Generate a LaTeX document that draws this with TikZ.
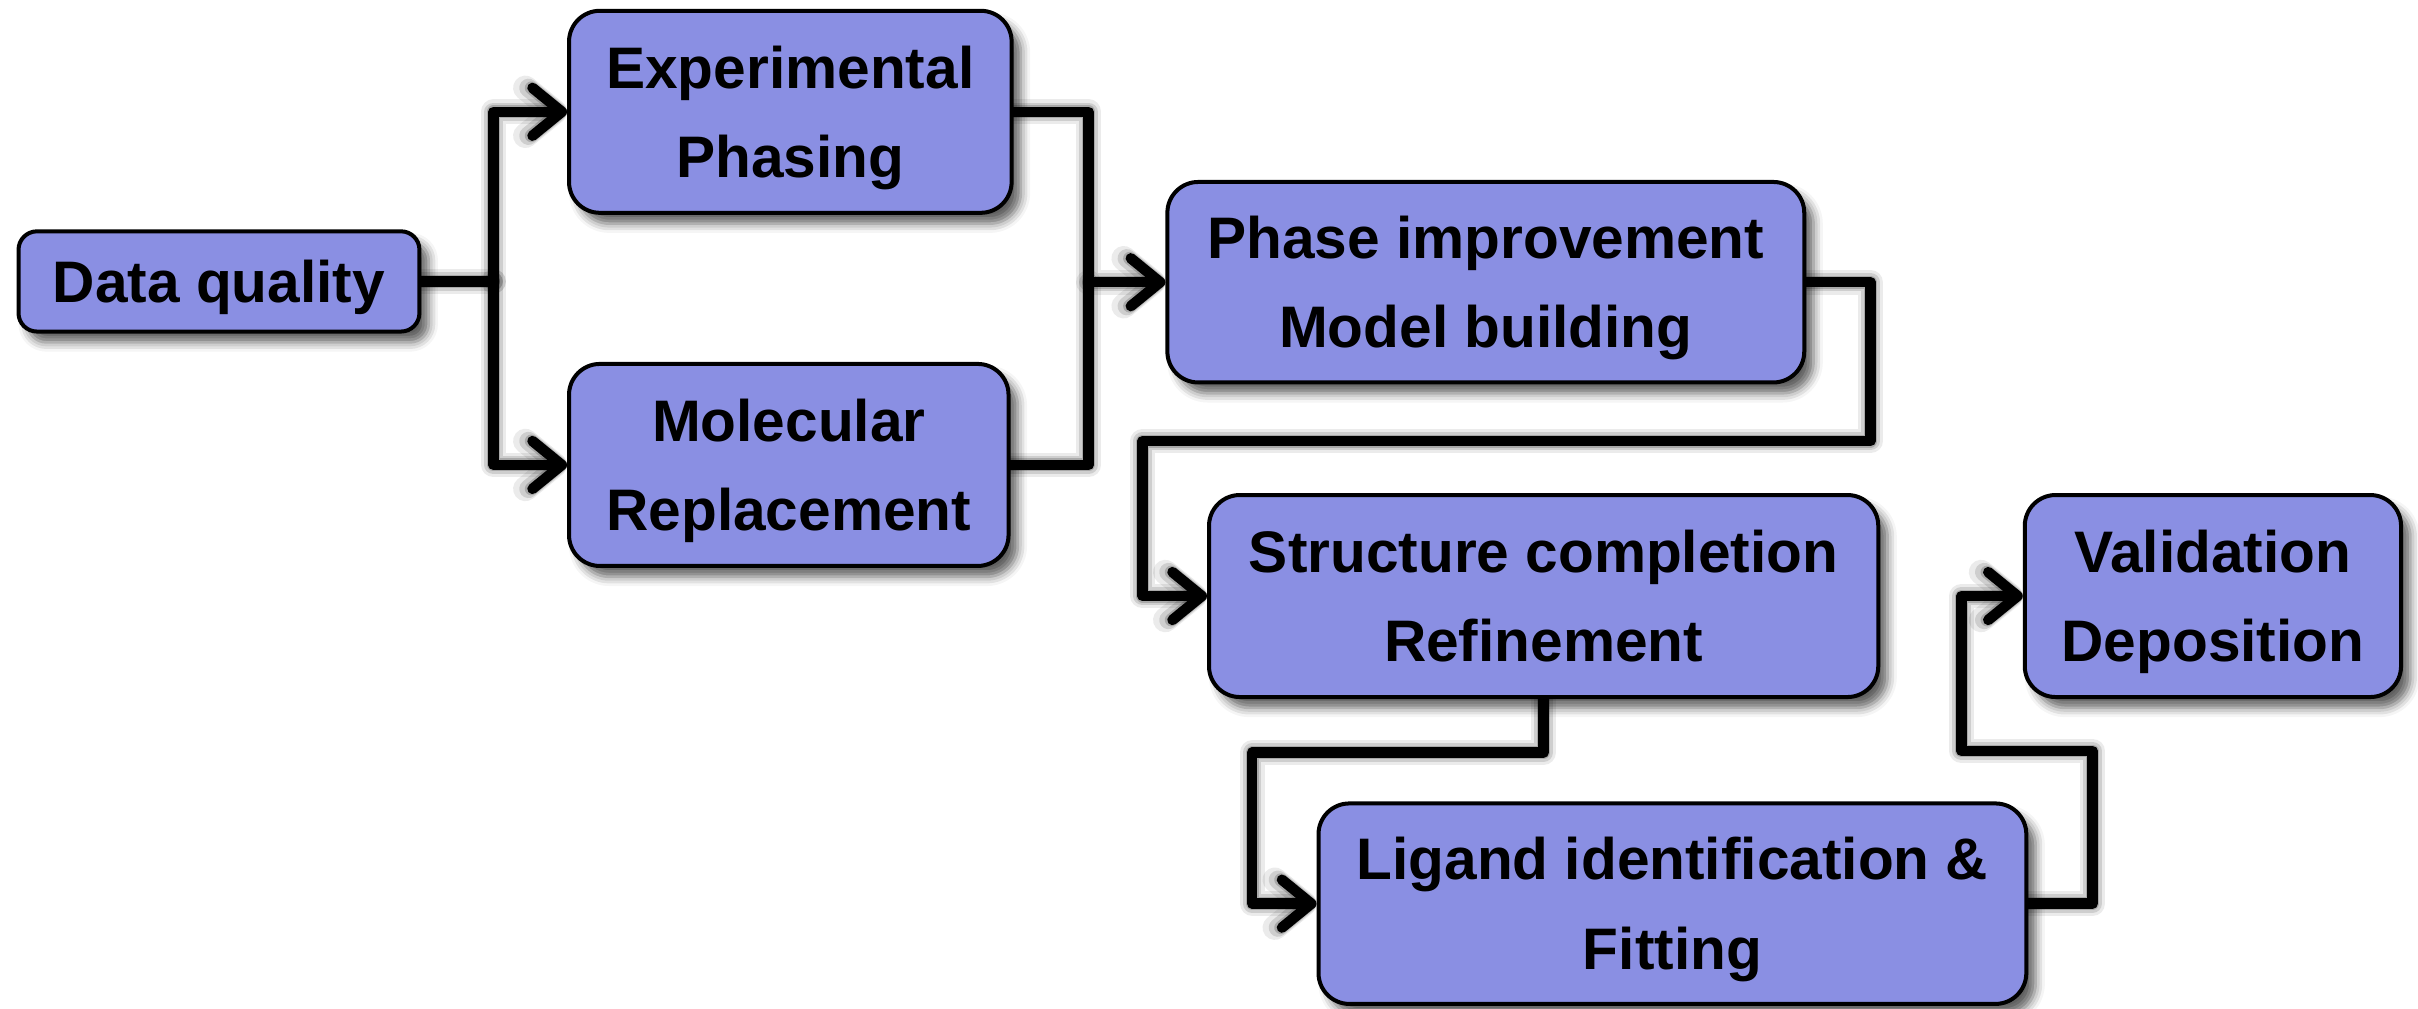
\documentclass[tikz,border=0pt]{standalone}
\usepackage{fontspec}
\setmainfont{Liberation Sans}
\usetikzlibrary{arrows.meta,shadows.blur}
\definecolor{boxfill}{RGB}{138,143,227}
\pgfdeclarelayer{bg}
\pgfsetlayers{bg,main}
\begin{document}
\begin{tikzpicture}[x=0.5pt,y=-0.5pt,
  stepbox/.style={draw=black, line width=1.3pt, fill=boxfill, rounded corners=10pt,
    inner sep=0pt, align=center, text=black,
    font=\fontsize{19pt}{29pt}\selectfont\bfseries,
    text height=42.6pt, text depth=0pt,
    blur shadow={shadow xshift=3pt, shadow yshift=-3.5pt, shadow blur radius=3pt, shadow opacity=62}},
  onebox/.style={stepbox, text height=13.6pt, text depth=0pt, rounded corners=6pt},
  conn/.style={line width=3.4pt, draw=black, line join=round, line cap=round,
    -{Straight Barb[length=9.5pt,width=15.5pt,line width=3.4pt,line cap=round,round]}},
  connplain/.style={line width=3.4pt, draw=black, line join=round, line cap=round},
  shad/.style={draw=black, line join=round, line cap=round, xshift=2.5pt, yshift=-3pt,
    -{Straight Barb[length=9.5pt,width=15.5pt,line cap=round,round]}},
  shadplain/.style={draw=black, line join=round, line cap=round, xshift=2.5pt, yshift=-3pt},
]
\useasboundingbox (0,0) rectangle (1568,654);

\node[onebox, minimum width=130pt, minimum height=32.5pt] (dq) at (142,182.5) {Data quality};
\node[stepbox, minimum width=143.5pt, minimum height=65.5pt] (exp) at (512.5,72.5) {Experimental\\Phasing};
\node[stepbox, minimum width=142.5pt, minimum height=65.5pt] (mr) at (511.5,301.5) {Molecular\\Replacement};
\node[stepbox, minimum width=206.5pt, minimum height=65pt] (ph) at (963.5,183) {Phase improvement\\Model building};
\node[stepbox, minimum width=217pt, minimum height=65.5pt] (sc) at (1001,386.5) {Structure completion\\Refinement};
\node[stepbox, minimum width=229.5pt, minimum height=65pt] (lig) at (1084.5,586) {Ligand identification \&\\Fitting};
\node[stepbox, minimum width=122pt, minimum height=65.5pt] (val) at (1435,386.5) {Validation\\Deposition};

\coordinate (j1) at (320,182.5);
\coordinate (j2) at (706,183);
\coordinate (a1) at (1213,286);
\coordinate (a2) at (741,286);
\coordinate (b2) at (812,488);
\coordinate (c1) at (1357,487);
\coordinate (c2) at (1272,487);

\begin{pgfonlayer}{bg}
  % shadows of connectors
  \foreach \w/\o in {8pt/0.08, 6pt/0.12, 4.2pt/0.18} {
    \draw[shadplain, line width=\w, draw opacity=\o] (dq.east) -- (j1);
    \draw[shad, line width=\w, draw opacity=\o] (j1) |- (exp.west);
    \draw[shad, line width=\w, draw opacity=\o] (j1) |- (mr.west);
    \draw[shad, line width=\w, draw opacity=\o] (exp.east) -| (j2) -- (ph.west);
    \draw[shadplain, line width=\w, draw opacity=\o] (mr.east) -| (j2);
    \draw[shad, line width=\w, draw opacity=\o] (ph.east) -| (a1) -- (a2) |- (sc.west);
    \draw[shad, line width=\w, draw opacity=\o] (sc.south) |- (b2) |- (lig.west);
    \draw[shad, line width=\w, draw opacity=\o] (lig.east) -| (c1) -- (c2) |- (val.west);
  }
  % connectors
  \draw[connplain] (dq.east) -- (j1);
  \draw[conn] (j1) |- (exp.west);
  \draw[conn] (j1) |- (mr.west);
  \draw[conn] (exp.east) -| (j2) -- (ph.west);
  \draw[connplain] (mr.east) -| (j2);
  \draw[conn] (ph.east) -| (a1) -- (a2) |- (sc.west);
  \draw[conn] (sc.south) |- (b2) |- (lig.west);
  \draw[conn] (lig.east) -| (c1) -- (c2) |- (val.west);
\end{pgfonlayer}
\end{tikzpicture}
\end{document}
